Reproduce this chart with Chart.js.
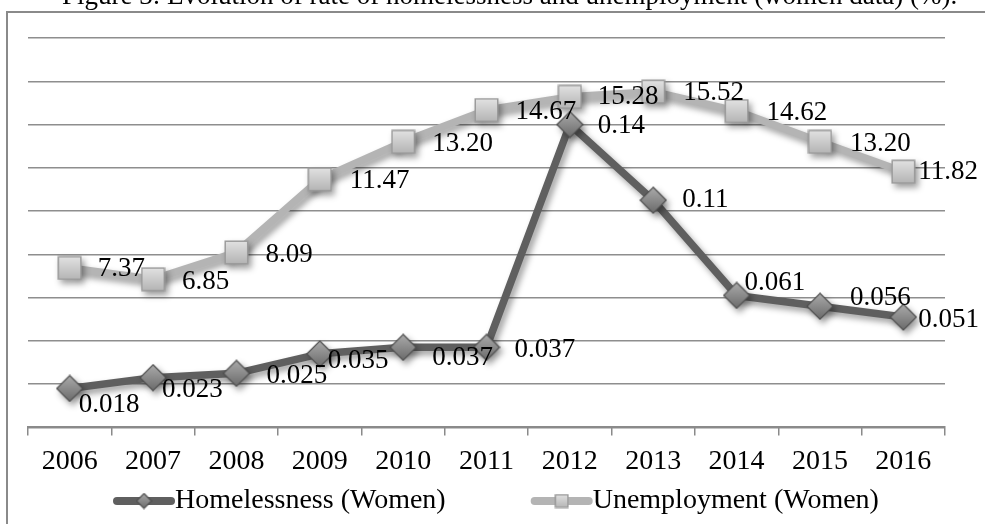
<!DOCTYPE html>
<html>
<head>
<meta charset="utf-8">
<script src="https://cdn.jsdelivr.net/npm/chart.js@4.4.0/dist/chart.umd.min.js"></script>
<style>
  html, body { margin: 0; padding: 0; background: #fff; }
  #wrap { position: relative; width: 985px; height: 524px; overflow: hidden; }
</style>
</head>
<body>
<div id="wrap"><canvas id="chart" width="985" height="524"></canvas></div>
<script>
const titleText = 'Figure 3: Evolution of rate of homelessness and unemployment (women data) (%).';
const years = ['2006', '2007', '2008', '2009', '2010', '2011', '2012', '2013', '2014', '2015', '2016'];
const homelessness = [0.018, 0.023, 0.025, 0.034, 0.037, 0.037, 0.14, 0.105, 0.061, 0.056, 0.051];
const unemployment = [7.37, 6.85, 8.09, 11.47, 13.20, 14.67, 15.28, 15.52, 14.62, 13.20, 11.82];
const homelessnessText = ['0.018', '0.023', '0.025', '0.035', '0.037', '0.037', '0.14', '0.11', '0.061', '0.056', '0.051'];
const unemploymentText = ['7.37', '6.85', '8.09', '11.47', '13.20', '14.67', '15.28', '15.52', '14.62', '13.20', '11.82'];
const seriesNames = ['Homelessness (Women)', 'Unemployment (Women)'];

// where each data label sits relative to its point (left edge, vertical middle)
const homeShift = [[9, 16], [9, 12], [30, 3], [8, 7], [29, 11], [28, 3], [28, 1], [29, 0], [8, -13], [30, -8], [15, 3]];
const unempShift = [[28, 1], [29, 3], [29, 3], [30, 2], [29, 2], [29, 2], [28, 0], [30, 1], [30, 2], [30, 2], [15, 0]];

const SERIF = '"Liberation Serif", "Times New Roman", serif';
const DARK = '#5f5f5f';
const LIGHT = '#b4b4b4';

function squareMarker(size) {
  const c = document.createElement('canvas');
  c.width = c.height = size;
  const g = c.getContext('2d');
  const grad = g.createLinearGradient(0, 0, 0, size);
  grad.addColorStop(0, '#e4e4e4');
  grad.addColorStop(1, '#b2b2b2');
  g.fillStyle = grad;
  g.fillRect(1, 1, size - 2, size - 2);
  g.strokeStyle = '#9b9b9b';
  g.lineWidth = 1.5;
  g.strokeRect(1.25, 1.25, size - 2.5, size - 2.5);
  return c;
}

function diamondMarker(size) {
  const c = document.createElement('canvas');
  c.width = c.height = size;
  const g = c.getContext('2d');
  const h = size / 2;
  const grad = g.createLinearGradient(0, 0, 0, size);
  grad.addColorStop(0, '#adadad');
  grad.addColorStop(1, '#686868');
  g.beginPath();
  g.moveTo(h, 1);
  g.lineTo(size - 1, h);
  g.lineTo(h, size - 1);
  g.lineTo(1, h);
  g.closePath();
  g.fillStyle = grad;
  g.fill();
  g.strokeStyle = '#4f4f4f';
  g.lineWidth = 1.2;
  g.stroke();
  return c;
}

const diamond = diamondMarker(28);
const square = squareMarker(25);
const diamondSmall = diamondMarker(17);
const squareSmall = squareMarker(15);

const shadowPlugin = {
  id: 'shadow',
  beforeDatasetDraw(chart) {
    const c = chart.ctx;
    c.save();
    c.shadowColor = 'rgba(0,0,0,0.38)';
    c.shadowBlur = 6;
    c.shadowOffsetX = 3;
    c.shadowOffsetY = 4;
  },
  afterDatasetDraw(chart) {
    chart.ctx.restore();
  }
};

const frameAndTitle = {
  id: 'frameAndTitle',
  beforeDraw(chart) {
    const c = chart.ctx;
    c.save();
    c.fillStyle = '#fff';
    c.fillRect(0, 0, chart.width, chart.height);
    c.strokeStyle = '#8a8a8a';
    c.lineWidth = 2;
    c.beginPath();
    c.moveTo(7, chart.height + 5);
    c.lineTo(7, 12);
    c.lineTo(chart.width + 5, 12);
    c.stroke();
    c.font = '27px ' + SERIF;
    c.fillStyle = '#000';
    c.textAlign = 'left';
    c.textBaseline = 'alphabetic';
    c.fillText(titleText, 62, 4);
    c.restore();
  }
};

const dataLabels = {
  id: 'dataLabels',
  afterDatasetsDraw(chart) {
    const c = chart.ctx;
    const texts = [homelessnessText, unemploymentText];
    const shifts = [homeShift, unempShift];
    c.save();
    c.font = '27px ' + SERIF;
    c.fillStyle = '#000';
    c.textAlign = 'left';
    c.textBaseline = 'middle';
    chart.data.datasets.forEach((ds, i) => {
      chart.getDatasetMeta(i).data.forEach((pt, j) => {
        c.fillText(texts[i][j], pt.x + shifts[i][j][0], pt.y + shifts[i][j][1]);
      });
    });
    c.restore();
  }
};

const legendPlugin = {
  id: 'customLegend',
  afterDraw(chart) {
    const c = chart.ctx;
    const y = 501;
    const symW = 62;
    const gap = 85;
    const colors = [DARK, LIGHT];
    const marks = [diamondSmall, squareSmall];
    c.save();
    c.font = '28px ' + SERIF;
    c.textBaseline = 'middle';
    c.textAlign = 'left';
    let x = 113;
    seriesNames.forEach((name, i) => {
      c.strokeStyle = colors[i];
      c.lineWidth = 8;
      c.lineCap = 'round';
      c.beginPath();
      c.moveTo(x + 4, y);
      c.lineTo(x + symW - 4, y);
      c.stroke();
      const m = marks[i];
      c.drawImage(m, x + symW / 2 - m.width / 2, y - m.height / 2);
      c.fillStyle = '#000';
      c.fillText(name, x + symW, y);
      x += symW + c.measureText(name).width + gap;
    });
    c.restore();
  }
};

new Chart(document.getElementById('chart'), {
  type: 'line',
  data: {
    labels: years,
    datasets: [
      {
        label: seriesNames[0],
        data: homelessness,
        yAxisID: 'yHome',
        borderColor: DARK,
        borderWidth: 7.5,
        borderJoinStyle: 'round',
        pointStyle: diamond,
        pointRadius: 14,
        tension: 0,
        clip: false
      },
      {
        label: seriesNames[1],
        data: unemployment,
        yAxisID: 'yUnemp',
        borderColor: LIGHT,
        borderWidth: 7.5,
        borderJoinStyle: 'round',
        pointStyle: square,
        pointRadius: 13,
        tension: 0,
        clip: false
      }
    ]
  },
  options: {
    responsive: false,
    animation: false,
    events: [],
    layout: { padding: { left: 28, right: 40, top: 38, bottom: 37 } },
    plugins: {
      legend: { display: false },
      tooltip: { enabled: false },
      title: { display: false }
    },
    scales: {
      x: {
        offset: true,
        grid: {
          offset: true,
          drawOnChartArea: false,
          drawTicks: true,
          tickLength: 8,
          color: '#8a8a8a',
          lineWidth: 1.5
        },
        border: { color: '#8a8a8a', width: 2 },
        ticks: {
          color: '#000',
          padding: 9,
          maxRotation: 0,
          autoSkip: false,
          font: { family: SERIF, size: 28 }
        }
      },
      yUnemp: {
        position: 'left',
        min: 0,
        max: 18,
        ticks: { display: false, stepSize: 2 },
        grid: { color: '#8e8e8e', lineWidth: 1.5, drawTicks: false },
        border: { display: false }
      },
      yHome: {
        position: 'right',
        display: false,
        min: 0,
        max: 0.18
      }
    }
  },
  plugins: [frameAndTitle, shadowPlugin, dataLabels, legendPlugin]
});
</script>
</body>
</html>
